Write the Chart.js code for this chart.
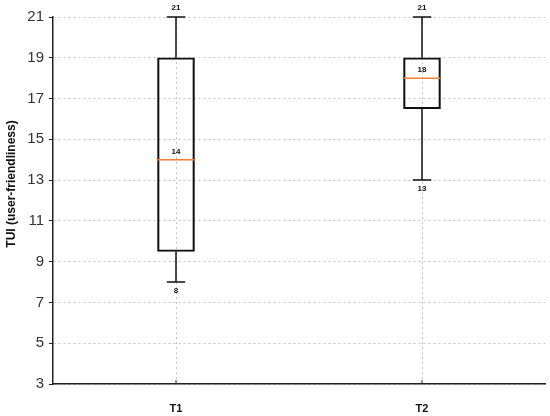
<!DOCTYPE html>
<html>
<head>
<meta charset="utf-8">
<script src="https://cdn.jsdelivr.net/npm/chart.js@4.4.0/dist/chart.umd.min.js"></script>
<style>
  html, body { margin: 0; padding: 0; background: #fff; }
  #wrap { width: 550px; height: 416px; }
</style>
</head>
<body>
<div id="wrap"><canvas id="box" width="550" height="416"></canvas></div>
<script>
// box plot values
const groups = ['T1', 'T2'];
const mins = [8, 13];
const q1s = [9.5, 16.5];
const medians = [14, 18];
const q3s = [19, 19];
const maxs = [21, 21];
const yTicks = [3, 5, 7, 9, 11, 13, 15, 17, 19, 21];
const yTitle = 'TUI (user-friendliness)';

const fontFamily = '"Liberation Sans", Arial, sans-serif';

// whiskers, caps, medians and the value labels
const boxExtras = {
  id: 'boxExtras',
  afterDatasetsDraw(chart) {
    const ctx = chart.ctx;
    const x = chart.scales.x;
    const y = chart.scales.y;
    const meta = chart.getDatasetMeta(0);
    ctx.save();
    groups.forEach((g, i) => {
      const cx = x.getPixelForValue(i);
      const half = meta.data[i].width / 2;
      const capHalf = half / 2;
      const yMin = y.getPixelForValue(mins[i]);
      const yMax = y.getPixelForValue(maxs[i]);
      const yQ1 = y.getPixelForValue(q1s[i]);
      const yQ3 = y.getPixelForValue(q3s[i]);
      const yMed = y.getPixelForValue(medians[i]);

      ctx.strokeStyle = '#111';
      ctx.lineWidth = 1.5;
      ctx.beginPath();
      ctx.moveTo(cx, yQ3); ctx.lineTo(cx, yMax);
      ctx.moveTo(cx - capHalf, yMax); ctx.lineTo(cx + capHalf, yMax);
      ctx.moveTo(cx, yQ1); ctx.lineTo(cx, yMin);
      ctx.moveTo(cx - capHalf, yMin); ctx.lineTo(cx + capHalf, yMin);
      ctx.stroke();

      ctx.strokeStyle = '#f07f35';
      ctx.beginPath();
      ctx.moveTo(cx - half, yMed); ctx.lineTo(cx + half, yMed);
      ctx.stroke();

      ctx.fillStyle = '#111';
      ctx.font = 'bold 8px ' + fontFamily;
      ctx.textAlign = 'center';
      ctx.textBaseline = 'middle';
      ctx.fillText(String(maxs[i]), cx, yMax - 9);
      ctx.fillText(String(medians[i]), cx, yMed - 8);
      ctx.fillText(String(mins[i]), cx, yMin + 9);

      // small inward tick on the x axis
      ctx.strokeStyle = '#333';
      ctx.lineWidth = 1;
      ctx.beginPath();
      ctx.moveTo(cx, x.top); ctx.lineTo(cx, x.top - 4);
      ctx.stroke();
    });

    // y axis title, sits a bit above the axis centre in the original
    ctx.translate(12, 184);
    ctx.rotate(-Math.PI / 2);
    ctx.font = 'bold 12px ' + fontFamily;
    ctx.fillStyle = '#111';
    ctx.textAlign = 'center';
    ctx.textBaseline = 'middle';
    ctx.fillText(yTitle, 0, 0);
    ctx.restore();
  }
};

new Chart(document.getElementById('box').getContext('2d'), {
  type: 'bar',
  data: {
    labels: groups,
    datasets: [{
      data: groups.map((g, i) => [q1s[i], q3s[i]]),
      backgroundColor: 'rgba(255,255,255,0)',
      borderColor: '#111',
      borderWidth: 1.5,
      borderSkipped: false,
      barThickness: 37
    }]
  },
  options: {
    responsive: false,
    animation: false,
    layout: { padding: { top: 17, right: 5, left: 0, bottom: 0 } },
    plugins: { legend: { display: false }, tooltip: { enabled: false } },
    scales: {
      x: {
        offset: true,
        afterFit(s) { s.height = 32; },
        grid: { offset: false, color: '#c4c4c4', drawTicks: false },
        border: { color: '#222', width: 1.5, dash: [2, 3] },
        ticks: { color: '#111', padding: 18, font: { family: fontFamily, size: 11, weight: 'bold' } }
      },
      y: {
        min: 3,
        max: 21,
        afterFit(s) { s.width = 53; },
        afterBuildTicks(s) { s.ticks = yTicks.map(v => ({ value: v })); },
        grid: { color: '#c4c4c4', drawTicks: true, tickLength: 4, tickColor: '#222', tickWidth: 1 },
        border: { color: '#222', width: 1.5, dash: [2, 3] },
        ticks: { color: '#333', padding: 5, font: { family: fontFamily, size: 15 } }
      }
    }
  },
  plugins: [boxExtras]
});
</script>
</body>
</html>
